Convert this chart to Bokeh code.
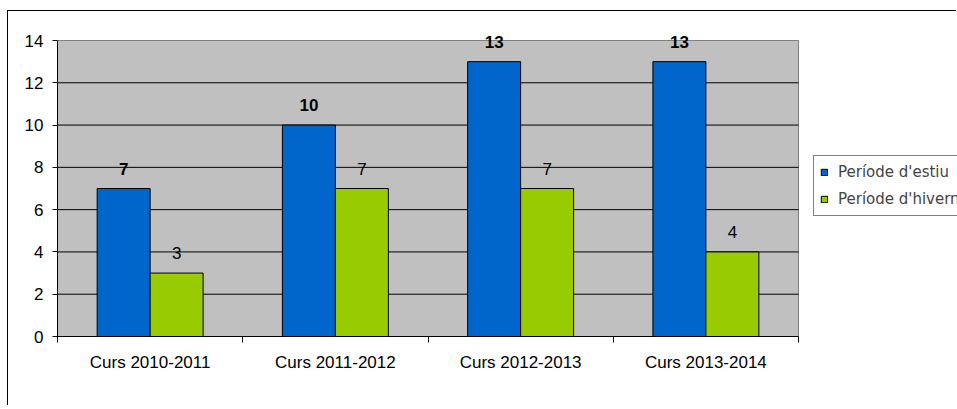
from bokeh.plotting import figure
from bokeh.models import (ColumnDataSource, Range1d, FixedTicker, LabelSet,
                          Legend, LegendItem)
from bokeh.core.properties import value
from bokeh.embed import file_html
from bokeh.resources import INLINE
import numpy as np

categories = ["Curs 2010-2011", "Curs 2011-2012", "Curs 2012-2013", "Curs 2013-2014"]
estiu = [7, 10, 13, 13]
hivern = [3, 7, 7, 4]
series_names = ["Període d'estiu", "Període d'hivern"]
y_ticks = [0, 2, 4, 6, 8, 10, 12, 14]

BLUE = "#0066CC"
GREEN = "#99CC00"
GRAY_BG = "#C0C0C0"
BAR_W = 0.286
Y_MAX = 14
N = len(categories)

# layout in pixels
W, H = 949, 395
ML, MT, MB = 49, 19, 70          # frame offsets inside canvas
FRAME_W = W - ML
FRAME_H = H - MT - MB
PLOT_W = 741                      # width of grey plot area
PLOT_H = 296                      # height of grey plot area
X_END = N * FRAME_W / PLOT_W
Y_END = Y_MAX * FRAME_H / PLOT_H

idx = np.arange(N)
centers = idx + 0.5

src_e = ColumnDataSource(dict(x=centers - BAR_W / 2, top=estiu,
                              txt=[str(v) for v in estiu]))
src_h = ColumnDataSource(dict(x=centers + BAR_W / 2, top=hivern,
                              txt=[str(v) for v in hivern]))

p = figure(width=W, height=H, output_backend="svg", toolbar_location=None,
           x_range=Range1d(0, X_END), y_range=Range1d(0, Y_END),
           min_border_left=ML, min_border_top=MT, min_border_right=0,
           min_border_bottom=MB)
p.margin = (10, 0, 0, 7)
p.styles = {"border-left": "1px solid black", "border-top": "1px solid black"}
p.background_fill_color = "white"
p.border_fill_color = "white"
p.outline_line_color = None

# grey plot area
p.quad(left=0, right=N, bottom=0, top=Y_MAX, fill_color=GRAY_BG,
       line_color="#808080", line_width=1, level="image")
# horizontal grid lines
gy = y_ticks[1:-1]
p.segment(x0=[0] * len(gy), x1=[N] * len(gy), y0=gy, y1=gy,
          line_color="black", line_width=1, level="underlay")

r_e = p.vbar(x="x", top="top", width=BAR_W, source=src_e, fill_color=BLUE,
             line_color="black", line_width=1)
r_h = p.vbar(x="x", top="top", width=BAR_W, source=src_h, fill_color=GREEN,
             line_color="black", line_width=1)

FONT = "Liberation Sans"
FS = "17px"

p.add_layout(LabelSet(x="x", y="top", text="txt", source=src_e,
                      text_align="center", text_baseline="middle", y_offset=20,
                      text_font=value(FONT), text_font_size=value(FS),
                      text_font_style="bold", text_color="black"))
p.add_layout(LabelSet(x="x", y="top", text="txt", source=src_h,
                      text_align="center", text_baseline="middle", y_offset=20,
                      text_font=value(FONT), text_font_size=value(FS),
                      text_color="black"))

# axes
p.xaxis.ticker = FixedTicker(ticks=list(centers), minor_ticks=list(range(N + 1)))
p.xaxis.major_label_overrides = {float(c): lab for c, lab in zip(centers, categories)}
p.xaxis.bounds = (0, N)
p.xaxis.major_tick_line_color = None
p.xaxis.major_tick_out = 0
p.xaxis.major_tick_in = 0
p.xaxis.minor_tick_line_color = "black"
p.xaxis.minor_tick_out = 6
p.xaxis.minor_tick_in = 0
p.xaxis.major_label_standoff = 10
p.xaxis.axis_line_color = "black"

p.yaxis.ticker = FixedTicker(ticks=y_ticks)
p.yaxis.bounds = (0, Y_MAX)
p.yaxis.major_tick_out = 5
p.yaxis.major_tick_in = 0
p.yaxis.minor_tick_line_color = None
p.yaxis.major_label_standoff = 9
p.yaxis.axis_line_color = "black"

for ax in (p.xaxis, p.yaxis):
    ax.major_label_text_font = FONT
    ax.major_label_text_font_size = FS
    ax.major_label_text_color = "black"

p.xgrid.grid_line_color = None
p.ygrid.grid_line_color = None

legend = Legend(items=[LegendItem(label=series_names[0], renderers=[r_e]),
                       LegendItem(label=series_names[1], renderers=[r_h])],
                location=(756, 120), orientation="vertical",
                label_text_font="DejaVu Sans", label_text_font_size="15px",
                glyph_width=8, glyph_height=8, label_height=20, spacing=7,
                padding=6, margin=0, label_standoff=10,
                border_line_color="black", border_line_width=1,
                background_fill_color="white", background_fill_alpha=1)
p.add_layout(legend, "center")

open("out.html", "w").write(file_html(p, INLINE))
